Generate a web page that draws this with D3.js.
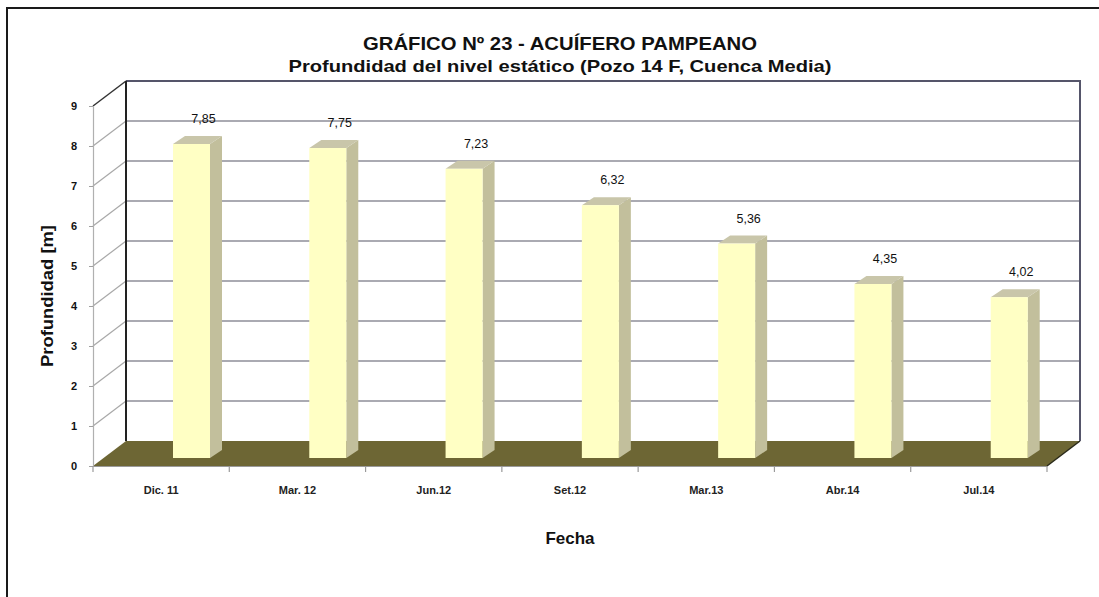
<!DOCTYPE html>
<html><head><meta charset="utf-8">
<script src="https://cdn.jsdelivr.net/npm/d3@7"></script>
<style>html,body{margin:0;padding:0;background:#fff;}svg{display:block;}</style>
</head><body>
<svg id="c" width="1099" height="597"></svg>
<script>
const categories = ["Dic. 11","Mar. 12","Jun.12","Set.12","Mar.13","Abr.14","Jul.14"];
const values = [7.85,7.75,7.23,6.32,5.36,4.35,4.02];
const valueLabels = ["7,85","7,75","7,23","6,32","5,36","4,35","4,02"];
const yTicks = [0,1,2,3,4,5,6,7,8,9];
const titleText = "GRÁFICO Nº 23 - ACUÍFERO PAMPEANO";
const subtitleText = "Profundidad del nivel estático (Pozo 14 F, Cuenca Media)";
const yTitle = "Profundidad [m]";
const xTitle = "Fecha";

const svg = d3.select("#c");
const F = "'Liberation Sans', Arial, sans-serif";

// frame
svg.append("path").attr("d","M7,597 L7,8 L1099,8").attr("fill","none").attr("stroke","#1a1a1a").attr("stroke-width",2);

const x = d3.scaleBand().domain(categories).range([93,1047]).padding(0);
const y = d3.scaleLinear().domain([0,9]).range([466,106]);
const DX = 33, DY = -25;          // wall depth
const BX = 80, BW = 37;           // bar front offset in band, width
const BDY = -8, TDX = 12, TDY = -8; // bar plane shift and bar depth

const x0 = x.range()[0], x1 = x.range()[1];

// floor
svg.append("path")
  .attr("d", `M${x0},${y(0)} L${x0+DX},${y(0)+DY} L${x1+DX},${y(0)+DY} L${x1},${y(0)} Z`)
  .attr("fill","#6d6634");
svg.append("line").attr("x1",x1).attr("y1",y(0)).attr("x2",x1+DX).attr("y2",y(0)+DY).attr("stroke","#2a2a1a").attr("stroke-width",1.5);

// back wall gridlines
svg.append("g").selectAll("line").data(yTicks.filter(d=>d>0 && d<9)).join("line")
  .attr("x1",x0+DX).attr("x2",x1+DX)
  .attr("y1",d=>y(d)+DY).attr("y2",d=>y(d)+DY)
  .attr("stroke","#8e8e98").attr("stroke-width",1.5);
// side wall diagonals
svg.append("g").selectAll("line").data(yTicks.filter(d=>d>0)).join("line")
  .attr("x1",x0).attr("y1",d=>y(d)).attr("x2",x0+DX).attr("y2",d=>y(d)+DY)
  .attr("stroke",d=>d===9?"#333":"#a8a8a8").attr("stroke-width",d=>d===9?1.5:1.2);
// back wall top & right edge
svg.append("path").attr("d",`M${x0+DX},${y(9)+DY} L${x1+DX},${y(9)+DY} L${x1+DX},${y(0)+DY}`)
  .attr("fill","none").attr("stroke","#55556a").attr("stroke-width",2);
// back wall left edge
svg.append("line").attr("x1",x0+DX).attr("x2",x0+DX).attr("y1",y(9)+DY).attr("y2",y(0)+DY)
  .attr("stroke","#222").attr("stroke-width",2);

// y axis (front)
const yAxis = svg.append("g").attr("transform",`translate(${x0},0)`)
  .call(d3.axisLeft(y).tickValues(yTicks).tickSize(4).tickPadding(12).tickFormat(d3.format("d")));
yAxis.select(".domain").attr("stroke","#b0b0b0").attr("stroke-width",1.2);
yAxis.selectAll(".tick line").attr("stroke","#a0a0a0");
yAxis.selectAll(".tick text").attr("font-family",F).attr("font-weight","bold").attr("font-size",11).attr("fill","#111");

// x axis (front)
const xAxis = svg.append("g").attr("transform",`translate(0,${y(0)})`)
  .call(d3.axisBottom(x).tickSize(0).tickPadding(20));
xAxis.select(".domain").attr("stroke","#9a9a9a").attr("stroke-width",1.2);
xAxis.selectAll(".tick text").attr("font-family",F).attr("font-weight","bold").attr("font-size",11).attr("fill","#222");
svg.append("g").selectAll("line").data(categories.map(c=>x(c)).concat([x1])).join("line")
  .attr("x1",d=>d).attr("x2",d=>d).attr("y1",y(0)).attr("y2",y(0)+6)
  .attr("stroke","#9a9a9a").attr("stroke-width",1.2);

// bars
const bars = svg.append("g").selectAll("g").data(categories.map((c,i)=>({c,v:values[i],l:valueLabels[i]}))).join("g");
const bl = d=>x(d.c)+BX, bb = y(0)+BDY, bt = d=>y(d.v)+BDY;
bars.append("path") // side
  .attr("d",d=>`M${bl(d)+BW},${bt(d)} L${bl(d)+BW+TDX},${bt(d)+TDY} L${bl(d)+BW+TDX},${bb+TDY} L${bl(d)+BW},${bb} Z`)
  .attr("fill","#c2bf9c");
bars.append("path") // top
  .attr("d",d=>`M${bl(d)},${bt(d)} L${bl(d)+TDX},${bt(d)+TDY} L${bl(d)+BW+TDX},${bt(d)+TDY} L${bl(d)+BW},${bt(d)} Z`)
  .attr("fill","#c9c6aa");
bars.append("rect") // front
  .attr("x",bl).attr("y",bt).attr("width",BW).attr("height",d=>bb-bt(d))
  .attr("fill","#ffffc4");
bars.append("text")
  .attr("x",d=>bl(d)+BW/2+12).attr("y",d=>bt(d)-21)
  .attr("text-anchor","middle").attr("font-family",F).attr("font-size",12.5).attr("fill","#111")
  .text(d=>d.l);

// titles
svg.append("text").attr("x",560).attr("y",50).attr("text-anchor","middle")
  .attr("font-family",F).attr("font-weight","bold").attr("font-size",19).attr("fill","#111")
  .attr("textLength",394).attr("lengthAdjust","spacingAndGlyphs").text(titleText);
svg.append("text").attr("x",560).attr("y",72).attr("text-anchor","middle")
  .attr("font-family",F).attr("font-weight","bold").attr("font-size",17).attr("fill","#111")
  .attr("textLength",543).attr("lengthAdjust","spacingAndGlyphs").text(subtitleText);
svg.append("text").attr("transform","translate(53,296) rotate(-90)").attr("text-anchor","middle")
  .attr("font-family",F).attr("font-weight","bold").attr("font-size",17).attr("fill","#111")
  .attr("textLength",142).attr("lengthAdjust","spacingAndGlyphs").text(yTitle);
svg.append("text").attr("x",570).attr("y",544).attr("text-anchor","middle")
  .attr("font-family",F).attr("font-weight","bold").attr("font-size",17).attr("fill","#111")
  .text(xTitle);
</script>
</body></html>
